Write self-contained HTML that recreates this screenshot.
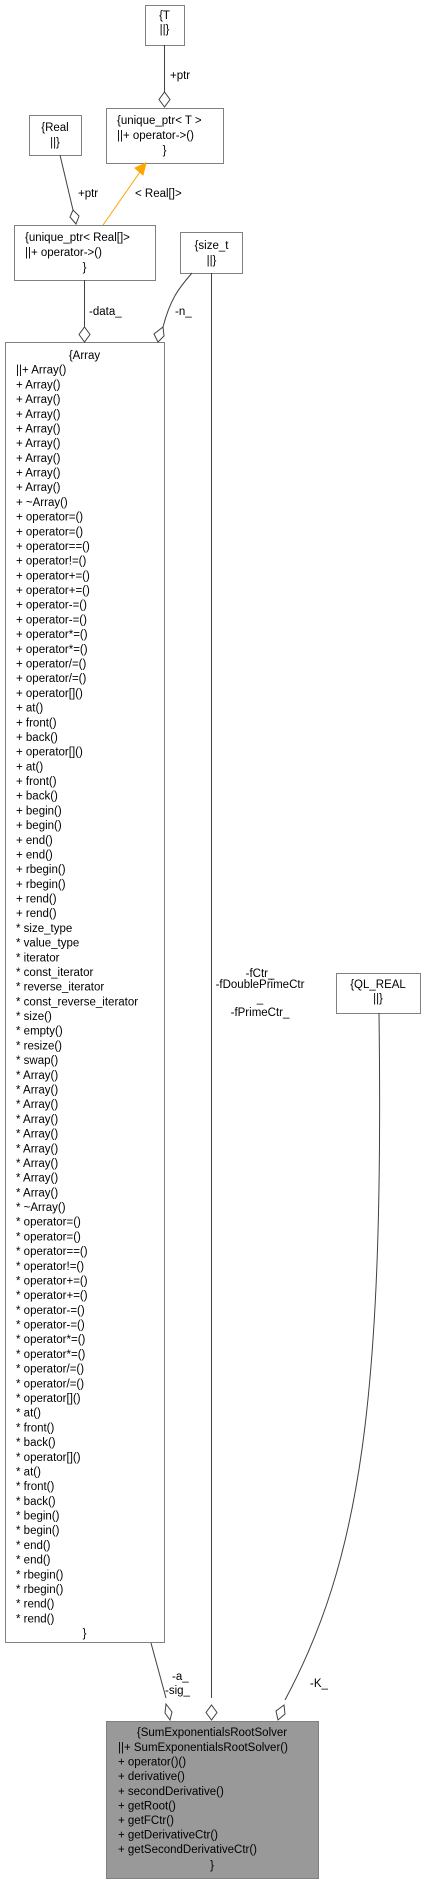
<!DOCTYPE html>
<html><head><meta charset="utf-8"><style>
html,body{margin:0;padding:0;background:#fff;}
svg{display:block;}
text{font-family:"Liberation Sans",Arial,sans-serif;font-size:11.5px;fill:#000;}
</style></head><body>
<svg width="425" height="1884" viewBox="0 0 425 1884" xmlns="http://www.w3.org/2000/svg">
<g fill="#fff" stroke="#808080" stroke-width="1">
<rect x="145.5" y="5.5" width="39" height="40"/>
<rect x="106.5" y="108.5" width="117" height="55"/>
<rect x="29.5" y="115.5" width="52" height="40"/>
<rect x="14.5" y="225.5" width="141" height="55"/>
<rect x="180.5" y="232.5" width="62" height="41"/>
<rect x="5.5" y="342.5" width="159" height="1300"/>
<rect x="336.5" y="973.5" width="84" height="40"/>
<rect x="106.5" y="1721.5" width="212" height="157" fill="#999999"/>
</g>
<g fill="none" stroke="#404040" stroke-width="1">
<path d="M164.5,45 L164.5,92"/>
<path d="M60,155 L73,210"/>
<path d="M84.5,280 L84.5,327"/>
<path d="M192,273 C178,289 170,300 163,327"/>
<path d="M211.5,273 L211.5,1698"/>
<path d="M379,1013 C384,1400 360,1560 285,1700"/>
<path d="M151,1643 L166,1698"/>
</g>
<g fill="#fff" stroke="#404040" stroke-width="1">
<path d="M164.5,107 L159,99.5 L164.5,92 L170,99.5 Z"/>
<path d="M76,224 L70,217 L73,210 L79,216 Z"/>
<path d="M84.5,342 L79,334.5 L84.5,327 L90,334.5 Z"/>
<path d="M158,342 L154,334 L163,327 L164,336 Z"/>
<path d="M211.5,1720 L206,1712.5 L211.5,1705 L217,1712.5 Z"/>
<path d="M170,1720 L165,1713 L166,1704 L172,1712 Z"/>
<path d="M278,1720 L276,1711 L284,1705 L285,1714 Z"/>
</g>
<path d="M103,225 L140,172" stroke="#ffa500" stroke-width="1" fill="none"/>
<path d="M146,163 L135,168 L143,175 Z" fill="#ffa500" stroke="#ffa500"/>

<text x="164.5" y="19" text-anchor="middle">{T</text>
<text x="164.5" y="33" text-anchor="middle">||}</text>
<text x="170" y="79">+ptr</text>
<text x="117" y="124">{unique_ptr&lt; T &gt;</text>
<text x="117" y="139">||+ operator-&gt;()</text>
<text x="164.5" y="154" text-anchor="middle">}</text>
<text x="55" y="131" text-anchor="middle">{Real</text>
<text x="55" y="146" text-anchor="middle">||}</text>
<text x="78" y="197">+ptr</text>
<text x="135" y="197">&lt; Real[]&gt;</text>
<text x="25" y="241">{unique_ptr&lt; Real[]&gt;</text>
<text x="25" y="256">||+ operator-&gt;()</text>
<text x="84.5" y="271" text-anchor="middle">}</text>
<text x="211.5" y="249" text-anchor="middle">{size_t</text>
<text x="211.5" y="264" text-anchor="middle">||}</text>
<text x="89" y="315">-data_</text>
<text x="175" y="315">-n_</text>
<text x="378" y="988" text-anchor="middle">{QL_REAL</text>
<text x="378" y="1002" text-anchor="middle">||}</text>
<text x="260" y="977" text-anchor="middle">-fCtr_</text>
<text x="260" y="988" text-anchor="middle">-fDoublePrimeCtr</text>
<text x="260" y="1002" text-anchor="middle">_</text>
<text x="260" y="1016" text-anchor="middle">-fPrimeCtr_</text>
<text x="172" y="1680">-a_</text>
<text x="165" y="1694">-sig_</text>
<text x="310" y="1687">-K_</text>

<text x="84.5" y="359" text-anchor="middle">{Array</text>
<text>
<tspan x="16" y="373.7">||+ Array()</tspan>
<tspan x="16" y="388.4">+ Array()</tspan>
<tspan x="16" y="403.1">+ Array()</tspan>
<tspan x="16" y="417.8">+ Array()</tspan>
<tspan x="16" y="432.5">+ Array()</tspan>
<tspan x="16" y="447.1">+ Array()</tspan>
<tspan x="16" y="461.8">+ Array()</tspan>
<tspan x="16" y="476.5">+ Array()</tspan>
<tspan x="16" y="491.2">+ Array()</tspan>
<tspan x="16" y="505.9">+ ~Array()</tspan>
<tspan x="16" y="520.6">+ operator=()</tspan>
<tspan x="16" y="535.3">+ operator=()</tspan>
<tspan x="16" y="550">+ operator==()</tspan>
<tspan x="16" y="564.7">+ operator!=()</tspan>
<tspan x="16" y="579.4">+ operator+=()</tspan>
<tspan x="16" y="594">+ operator+=()</tspan>
<tspan x="16" y="608.7">+ operator-=()</tspan>
<tspan x="16" y="623.4">+ operator-=()</tspan>
<tspan x="16" y="638.1">+ operator*=()</tspan>
<tspan x="16" y="652.8">+ operator*=()</tspan>
<tspan x="16" y="667.5">+ operator/=()</tspan>
<tspan x="16" y="682.2">+ operator/=()</tspan>
<tspan x="16" y="696.9">+ operator[]()</tspan>
<tspan x="16" y="711.6">+ at()</tspan>
<tspan x="16" y="726.3">+ front()</tspan>
<tspan x="16" y="740.9">+ back()</tspan>
<tspan x="16" y="755.6">+ operator[]()</tspan>
<tspan x="16" y="770.3">+ at()</tspan>
<tspan x="16" y="785">+ front()</tspan>
<tspan x="16" y="799.7">+ back()</tspan>
<tspan x="16" y="814.4">+ begin()</tspan>
<tspan x="16" y="829.1">+ begin()</tspan>
<tspan x="16" y="843.8">+ end()</tspan>
<tspan x="16" y="858.5">+ end()</tspan>
<tspan x="16" y="873.2">+ rbegin()</tspan>
<tspan x="16" y="887.8">+ rbegin()</tspan>
<tspan x="16" y="902.5">+ rend()</tspan>
<tspan x="16" y="917.2">+ rend()</tspan>
<tspan x="16" y="931.9">* size_type</tspan>
<tspan x="16" y="946.6">* value_type</tspan>
<tspan x="16" y="961.3">* iterator</tspan>
<tspan x="16" y="976">* const_iterator</tspan>
<tspan x="16" y="990.7">* reverse_iterator</tspan>
<tspan x="16" y="1005.4">* const_reverse_iterator</tspan>
<tspan x="16" y="1020.1">* size()</tspan>
<tspan x="16" y="1034.7">* empty()</tspan>
<tspan x="16" y="1049.4">* resize()</tspan>
<tspan x="16" y="1064.1">* swap()</tspan>
<tspan x="16" y="1078.8">* Array()</tspan>
<tspan x="16" y="1093.5">* Array()</tspan>
<tspan x="16" y="1108.2">* Array()</tspan>
<tspan x="16" y="1122.9">* Array()</tspan>
<tspan x="16" y="1137.6">* Array()</tspan>
<tspan x="16" y="1152.3">* Array()</tspan>
<tspan x="16" y="1167">* Array()</tspan>
<tspan x="16" y="1181.6">* Array()</tspan>
<tspan x="16" y="1196.3">* Array()</tspan>
<tspan x="16" y="1211">* ~Array()</tspan>
<tspan x="16" y="1225.7">* operator=()</tspan>
<tspan x="16" y="1240.4">* operator=()</tspan>
<tspan x="16" y="1255.1">* operator==()</tspan>
<tspan x="16" y="1269.8">* operator!=()</tspan>
<tspan x="16" y="1284.5">* operator+=()</tspan>
<tspan x="16" y="1299.2">* operator+=()</tspan>
<tspan x="16" y="1313.9">* operator-=()</tspan>
<tspan x="16" y="1328.5">* operator-=()</tspan>
<tspan x="16" y="1343.2">* operator*=()</tspan>
<tspan x="16" y="1357.9">* operator*=()</tspan>
<tspan x="16" y="1372.6">* operator/=()</tspan>
<tspan x="16" y="1387.3">* operator/=()</tspan>
<tspan x="16" y="1402">* operator[]()</tspan>
<tspan x="16" y="1416.7">* at()</tspan>
<tspan x="16" y="1431.4">* front()</tspan>
<tspan x="16" y="1446.1">* back()</tspan>
<tspan x="16" y="1460.8">* operator[]()</tspan>
<tspan x="16" y="1475.4">* at()</tspan>
<tspan x="16" y="1490.1">* front()</tspan>
<tspan x="16" y="1504.8">* back()</tspan>
<tspan x="16" y="1519.5">* begin()</tspan>
<tspan x="16" y="1534.2">* begin()</tspan>
<tspan x="16" y="1548.9">* end()</tspan>
<tspan x="16" y="1563.6">* end()</tspan>
<tspan x="16" y="1578.3">* rbegin()</tspan>
<tspan x="16" y="1593">* rbegin()</tspan>
<tspan x="16" y="1607.7">* rend()</tspan>
<tspan x="16" y="1622.3">* rend()</tspan>
</text>
<text x="84.5" y="1637" text-anchor="middle">}</text>

<text x="212" y="1736" text-anchor="middle">{SumExponentialsRootSolver</text>
<text>
<tspan x="118" y="1751">||+ SumExponentialsRootSolver()</tspan>
<tspan x="118" y="1765.6">+ operator()()</tspan>
<tspan x="118" y="1780.2">+ derivative()</tspan>
<tspan x="118" y="1794.8">+ secondDerivative()</tspan>
<tspan x="118" y="1809.4">+ getRoot()</tspan>
<tspan x="118" y="1824">+ getFCtr()</tspan>
<tspan x="118" y="1838.6">+ getDerivativeCtr()</tspan>
<tspan x="118" y="1853.2">+ getSecondDerivativeCtr()</tspan>
</text>
<text x="212" y="1869" text-anchor="middle">}</text>
</svg>
</body></html>
